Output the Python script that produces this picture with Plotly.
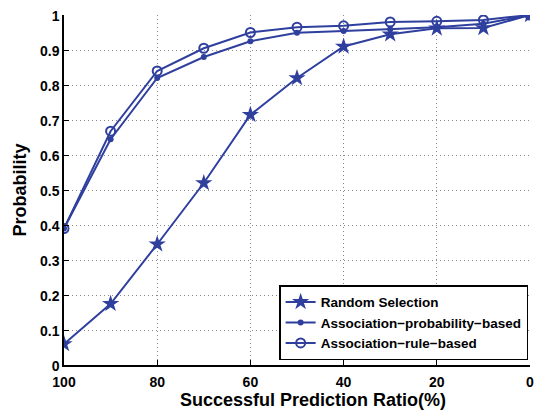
import plotly.graph_objects as go

x_vals = [100, 90, 80, 70, 60, 50, 40, 30, 20, 10, 0]
random_sel = [0.06, 0.175, 0.345, 0.52, 0.715, 0.82, 0.91, 0.945, 0.962, 0.963, 1.0]
assoc_prob = [0.39, 0.645, 0.82, 0.88, 0.925, 0.949, 0.954, 0.959, 0.965, 0.975, 1.0]
assoc_rule = [0.39, 0.668, 0.84, 0.905, 0.95, 0.965, 0.969, 0.98, 0.982, 0.986, 1.0]
x_ticks = [100, 80, 60, 40, 20, 0]
y_ticks = [0, 0.1, 0.2, 0.3, 0.4, 0.5, 0.6, 0.7, 0.8, 0.9, 1]
y_ticklabels = ["0", "0.1", "0.2", "0.3", "0.4", "0.5", "0.6", "0.7", "0.8", "0.9", "1"]
x_title = "Successful Prediction Ratio(%)"
y_title = "Probability"

color = "#2f3f9e"
font_family = "Liberation Sans, Arial, sans-serif"

fig = go.Figure()
fig.add_trace(go.Scatter(x=x_vals, y=random_sel, mode="lines+markers", name="<b>Random Selection</b>",
                         line=dict(color=color, width=2),
                         marker=dict(symbol="star", size=13, color=color)))
fig.add_trace(go.Scatter(x=x_vals, y=assoc_prob, mode="lines+markers", name="<b>Association\u2212probability\u2212based</b>",
                         line=dict(color=color, width=2),
                         marker=dict(symbol="circle", size=6, color=color)))
fig.add_trace(go.Scatter(x=x_vals, y=assoc_rule, mode="lines+markers", name="<b>Association\u2212rule\u2212based</b>",
                         line=dict(color=color, width=2),
                         marker=dict(symbol="circle-open", size=9, color=color, line=dict(width=2, color=color))))

fig.add_annotation(text=f"<b>{x_title}</b>", xref="paper", yref="paper", x=0.534, y=-0.1,
                   xanchor="center", yanchor="middle", showarrow=False,
                   font=dict(size=18, family=font_family, color="black"))

fig.update_layout(
    width=539, height=414,
    margin=dict(l=64, r=5, t=15, b=49),
    paper_bgcolor="white", plot_bgcolor="white",
    font=dict(family=font_family, size=14, color="black"),
    legend=dict(x=0.996, y=0.014, xanchor="right", yanchor="bottom",
                bordercolor="black", borderwidth=1.5, bgcolor="white",
                font=dict(size=13.5, family=font_family, color="black"),
                tracegroupgap=0, itemwidth=30),
    xaxis=dict(range=[100, 0], tickvals=x_ticks, ticktext=[f"<b>{v}</b>" for v in x_ticks],
               showgrid=True, gridcolor="#8a8a8a", griddash="1px,3px", gridwidth=1,
               showline=True, linecolor="black", linewidth=1.5,
               ticks="inside", ticklen=5, tickcolor="black", zeroline=False,
               ticklabelstandoff=3),
    yaxis=dict(range=[0, 1], tickvals=y_ticks, ticktext=[f"<b>{t}</b>" for t in y_ticklabels],
               showgrid=True, gridcolor="#8a8a8a", griddash="1px,3px", gridwidth=1,
               showline=True, linecolor="black", linewidth=1.5,
               ticks="inside", ticklen=5, tickcolor="black", zeroline=False,
               ticklabelshift=1,
               title=dict(text=f"<b>{y_title}</b>", font=dict(size=18), standoff=9)),
)

fig.write_html("out.html")
